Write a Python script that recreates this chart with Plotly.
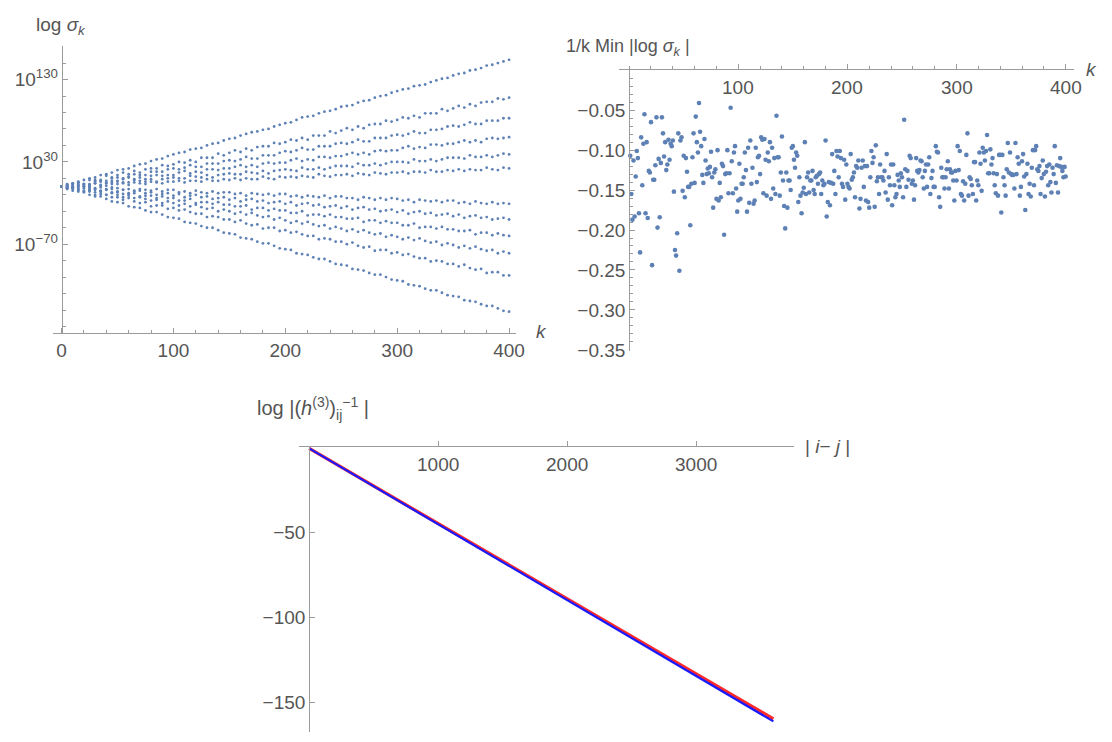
import plotly.graph_objects as go

# Reference canvas size; the figure fills the whole browser viewport and every
# position below is given as a fraction of this canvas.
W, H = 1112, 742

# ---------- Panel 1 data: log10(sigma_k) bands, read every 5 in k ----------
k_band = list(range(0, 401, 5))
band_U1 = [0, 2, 4, 6, 8, 10, 11, 14, 15, 17,
           20, 21, 22, 25, 27, 28, 31, 33, 34, 37,
           39, 41, 42, 45, 46, 47, 50, 52, 53, 56,
           58, 59, 62, 64, 66, 67, 69, 70, 73, 75,
           77, 78, 81, 84, 85, 86, 89, 91, 92, 94,
           97, 98, 99, 102, 104, 105, 108, 110, 111, 114,
           116, 118, 119, 122, 123, 124, 127, 129, 131, 132,
           135, 137, 138, 141, 142, 144, 147, 148, 150, 152,
           154]
band_U2 = [0, 3, 2, 5, 3, 8, 8, 8, 13, 11,
           14, 17, 15, 19, 17, 21, 22, 22, 26, 25,
           27, 30, 29, 32, 30, 35, 35, 35, 40, 38,
           41, 44, 42, 46, 44, 48, 49, 49, 53, 52,
           54, 57, 56, 59, 57, 62, 62, 62, 67, 65,
           68, 71, 69, 73, 71, 75, 76, 76, 80, 79,
           81, 84, 83, 86, 84, 89, 89, 89, 94, 92,
           95, 98, 96, 100, 98, 102, 103, 103, 107, 106,
           108]
band_U3 = [0, 0, 2, 5, 3, 3, 7, 7, 7, 10,
           11, 10, 12, 15, 14, 14, 18, 18, 18, 21,
           22, 21, 23, 26, 24, 24, 28, 28, 28, 31,
           32, 31, 33, 36, 34, 34, 38, 38, 38, 41,
           43, 42, 44, 47, 45, 45, 49, 49, 49, 52,
           53, 52, 54, 57, 55, 55, 59, 59, 59, 62,
           63, 62, 64, 67, 65, 65, 69, 69, 70, 73,
           74, 73, 75, 78, 76, 76, 80, 80, 80, 83,
           83]
band_U4 = [0, 2, 4, 1, 3, 2, 6, 6, 5, 7,
           7, 9, 11, 9, 11, 9, 13, 14, 13, 14,
           14, 17, 19, 16, 18, 17, 21, 21, 20, 22,
           22, 24, 26, 24, 26, 24, 28, 29, 28, 29,
           29, 32, 34, 31, 33, 32, 36, 36, 35, 37,
           37, 39, 41, 39, 41, 39, 43, 44, 43, 44,
           44, 47, 49, 46, 48, 47, 51, 51, 50, 52,
           52, 54, 56, 54, 56, 54, 58, 59, 58, 59,
           60]
band_U5 = [0, 0, 0, 3, 2, 1, 4, 1, 4, 5,
           6, 5, 5, 8, 7, 6, 9, 6, 9, 10,
           11, 10, 10, 13, 12, 11, 14, 11, 14, 15,
           16, 15, 15, 18, 17, 16, 19, 16, 19, 20,
           21, 20, 19, 23, 21, 21, 23, 21, 23, 25,
           25, 25, 24, 28, 26, 26, 28, 26, 28, 30,
           30, 30, 29, 33, 31, 31, 33, 31, 33, 35,
           35, 35, 34, 38, 36, 36, 38, 36, 38, 40,
           39]
band_U6 = [0, 1, 0, 2, 1, 0, 4, 2, 1, 3,
           3, 4, 2, 5, 4, 3, 6, 5, 4, 6,
           6, 7, 5, 7, 7, 6, 9, 7, 7, 9,
           8, 10, 8, 10, 9, 9, 12, 10, 9, 12,
           11, 12, 11, 13, 12, 11, 15, 13, 12, 14,
           14, 15, 13, 16, 15, 14, 17, 16, 15, 17,
           17, 18, 16, 18, 18, 17, 20, 18, 18, 20,
           19, 21, 19, 21, 20, 20, 23, 21, 20, 23,
           22]
band_L1 = [0, -1, -1, -3, 0, -1, -3, -1, -3, -1,
           -2, -4, -3, -5, -3, -4, -5, -3, -6, -4,
           -4, -7, -6, -8, -5, -7, -8, -6, -8, -7,
           -7, -9, -8, -11, -8, -9, -10, -9, -11, -9,
           -9, -12, -11, -13, -11, -12, -13, -11, -14, -12,
           -12, -14, -14, -16, -13, -14, -16, -14, -16, -14,
           -15, -17, -16, -19, -16, -17, -18, -17, -19, -17,
           -17, -20, -19, -21, -18, -20, -21, -19, -21, -20,
           -21]
band_L2 = [0, 1, -3, -1, 0, -3, -2, -5, -4, -3,
           -6, -4, -8, -6, -5, -8, -7, -10, -9, -8,
           -11, -9, -13, -11, -10, -13, -12, -15, -14, -13,
           -16, -14, -18, -16, -15, -18, -17, -20, -19, -18,
           -21, -19, -23, -21, -20, -23, -22, -25, -24, -23,
           -26, -24, -28, -26, -25, -28, -27, -30, -29, -28,
           -31, -29, -33, -31, -30, -33, -32, -35, -34, -33,
           -36, -34, -38, -36, -35, -38, -37, -40, -39, -38,
           -40]
band_L3 = [0, -2, -2, 0, -5, -4, -4, -6, -4, -7,
           -7, -9, -9, -8, -13, -11, -11, -14, -12, -14,
           -14, -17, -17, -15, -20, -19, -19, -21, -19, -22,
           -22, -24, -24, -23, -28, -26, -26, -29, -27, -29,
           -29, -32, -32, -30, -35, -34, -34, -36, -34, -37,
           -37, -39, -39, -38, -43, -41, -41, -44, -42, -44,
           -44, -47, -47, -45, -50, -49, -49, -51, -49, -52,
           -52, -54, -54, -53, -58, -56, -56, -59, -57, -59,
           -60]
band_L4 = [0, -3, -1, -4, -2, -5, -7, -6, -10, -8,
           -10, -13, -11, -14, -12, -15, -17, -16, -20, -18,
           -20, -23, -21, -24, -22, -25, -27, -26, -30, -28,
           -30, -33, -31, -34, -32, -35, -37, -36, -40, -38,
           -41, -44, -42, -45, -43, -46, -48, -47, -51, -49,
           -51, -54, -52, -55, -53, -56, -58, -57, -61, -59,
           -61, -64, -62, -65, -63, -66, -68, -67, -71, -69,
           -71, -74, -72, -75, -73, -76, -78, -77, -81, -79,
           -81]
band_L5 = [0, -2, -1, -4, -6, -6, -10, -9, -10, -13,
           -13, -16, -14, -18, -20, -19, -24, -23, -23, -27,
           -26, -29, -28, -31, -33, -33, -37, -36, -37, -40,
           -40, -43, -41, -45, -47, -46, -51, -50, -50, -54,
           -53, -56, -55, -58, -60, -60, -64, -63, -64, -67,
           -67, -70, -68, -72, -74, -73, -78, -77, -77, -81,
           -80, -83, -82, -85, -87, -87, -91, -90, -91, -94,
           -94, -97, -95, -99, -101, -100, -105, -104, -104, -108,
           -108]
band_L6 = [0, -1, -5, -6, -7, -10, -12, -12, -15, -18,
           -19, -20, -24, -25, -26, -29, -31, -31, -34, -37,
           -38, -39, -43, -44, -45, -48, -50, -50, -53, -56,
           -57, -58, -62, -63, -64, -67, -69, -69, -72, -75,
           -76, -77, -81, -82, -83, -86, -88, -88, -91, -94,
           -95, -96, -100, -101, -102, -105, -107, -107, -110, -113,
           -114, -115, -119, -120, -121, -124, -126, -126, -129, -132,
           -133, -134, -138, -139, -140, -143, -145, -145, -148, -151,
           -152]
bands = [band_U1, band_U2, band_U3, band_U4, band_U5, band_U6,
         band_L1, band_L2, band_L3, band_L4, band_L5, band_L6]
p1_ytickvals = [130, 30, -70]
p1_yticktext = ["10<sup>130</sup>", "10<sup>30</sup>", "10<sup>−70</sup>"]
p1_xtickvals = [0, 100, 200, 300, 400]

# ---------- Panel 2 data: (1/k) Min |log sigma_k| ----------
min_vals = [
    -0.107, -0.155, -0.187, -0.113, -0.183, -0.133, -0.101, -0.110, -0.179, -0.228,
    -0.084, -0.144, -0.092, -0.055, -0.179, -0.090, -0.185, -0.126, -0.128, -0.065,
    -0.244, -0.137, -0.137, -0.119, -0.059, -0.197, -0.111, -0.184, -0.116, -0.059,
    -0.079, -0.108, -0.090, -0.125, -0.118, -0.087, -0.112, -0.092, -0.095, -0.088,
    -0.152, -0.225, -0.232, -0.204, -0.079, -0.251, -0.088, -0.084, -0.151, -0.107,
    -0.159, -0.110, -0.127, -0.146, -0.146, -0.194, -0.142, -0.109, -0.079, -0.141,
    -0.058, -0.090, -0.103, -0.041, -0.077, -0.095, -0.131, -0.141, -0.086, -0.113,
    -0.130, -0.123, -0.129, -0.121, -0.102, -0.134, -0.172, -0.128, -0.124, -0.161,
    -0.100, -0.163, -0.141, -0.159, -0.117, -0.120, -0.206, -0.130, -0.129, -0.100,
    -0.154, -0.129, -0.047, -0.114, -0.154, -0.103, -0.095, -0.148, -0.177, -0.163,
    -0.117, -0.161, -0.142, -0.142, -0.134, -0.103, -0.125, -0.177, -0.097, -0.166,
    -0.088, -0.142, -0.122, -0.167, -0.163, -0.097, -0.140, -0.109, -0.107, -0.130,
    -0.084, -0.087, -0.154, -0.086, -0.112, -0.157, -0.103, -0.114, -0.090, -0.161,
    -0.097, -0.148, -0.110, -0.155, -0.057, -0.109, -0.109, -0.157, -0.128, -0.083,
    -0.138, -0.170, -0.198, -0.128, -0.172, -0.138, -0.138, -0.150, -0.097, -0.095,
    -0.112, -0.122, -0.103, -0.107, -0.165, -0.134, -0.157, -0.179, -0.153, -0.147,
    -0.090, -0.155, -0.134, -0.128, -0.153, -0.138, -0.138, -0.126, -0.150, -0.155,
    -0.134, -0.132, -0.142, -0.130, -0.128, -0.155, -0.138, -0.144, -0.142, -0.088,
    -0.183, -0.165, -0.140, -0.169, -0.141, -0.105, -0.142, -0.126, -0.155, -0.101,
    -0.108, -0.134, -0.101, -0.110, -0.142, -0.146, -0.112, -0.162, -0.118, -0.142,
    -0.146, -0.148, -0.105, -0.137, -0.134, -0.128, -0.159, -0.120, -0.122, -0.113,
    -0.173, -0.161, -0.122, -0.113, -0.146, -0.120, -0.163, -0.120, -0.165, -0.172,
    -0.134, -0.101, -0.116, -0.109, -0.171, -0.094, -0.139, -0.134, -0.155, -0.118,
    -0.134, -0.134, -0.138, -0.126, -0.153, -0.105, -0.162, -0.134, -0.144, -0.118,
    -0.169, -0.118, -0.144, -0.159, -0.155, -0.131, -0.138, -0.146, -0.129, -0.134,
    -0.159, -0.062, -0.124, -0.146, -0.126, -0.137, -0.107, -0.110, -0.142, -0.138,
    -0.162, -0.144, -0.110, -0.126, -0.128, -0.125, -0.113, -0.114, -0.134, -0.148,
    -0.126, -0.118, -0.146, -0.118, -0.109, -0.155, -0.135, -0.126, -0.146, -0.146,
    -0.095, -0.102, -0.103, -0.159, -0.171, -0.122, -0.134, -0.134, -0.148, -0.134,
    -0.124, -0.114, -0.148, -0.124, -0.128, -0.128, -0.138, -0.163, -0.126, -0.138,
    -0.095, -0.125, -0.101, -0.155, -0.157, -0.139, -0.163, -0.142, -0.106, -0.079,
    -0.157, -0.134, -0.136, -0.144, -0.155, -0.115, -0.115, -0.163, -0.138, -0.144,
    -0.103, -0.117, -0.151, -0.097, -0.103, -0.113, -0.101, -0.081, -0.129, -0.129,
    -0.099, -0.118, -0.110, -0.129, -0.144, -0.154, -0.130, -0.157, -0.106, -0.106,
    -0.178, -0.106, -0.134, -0.144, -0.157, -0.124, -0.091, -0.128, -0.103, -0.130,
    -0.131, -0.131, -0.148, -0.091, -0.130, -0.109, -0.117, -0.157, -0.146, -0.114,
    -0.105, -0.133, -0.175, -0.130, -0.117, -0.155, -0.142, -0.158, -0.122, -0.100,
    -0.144, -0.100, -0.095, -0.124, -0.126, -0.120, -0.155, -0.135, -0.113, -0.130,
    -0.158, -0.127, -0.120, -0.144, -0.118, -0.140, -0.153, -0.122, -0.130, -0.095,
    -0.141, -0.119, -0.153, -0.120, -0.110, -0.121, -0.126, -0.134, -0.121, -0.133,
]
k_min = list(range(1, len(min_vals) + 1))
p2_xtickvals = [100, 200, 300, 400]
p2_ytickvals = [-0.05, -0.10, -0.15, -0.20, -0.25, -0.30, -0.35]

# ---------- Panel 3 data: log |(h^(3))^-1_ij| vs |i-j| ----------
ij_dist = [0, 1000, 2000, 3000, 3600]
log_inv_red = [-1.0, -45.1, -89.3, -133.4, -159.5]
log_inv_blue = [-1.0, -45.4, -89.9, -134.3, -161.0]
p3_xtickvals = [1000, 2000, 3000]
p3_ytickvals = [-50, -100, -150]

PT = "#5E81B5"
AXC = "#9b9b9b"
TXC = "#555555"
FONT = "Liberation Sans, Arial, sans-serif"
FS = 19

fig = go.Figure()
for b in bands:
    fig.add_trace(go.Scatter(x=k_band, y=b, mode="markers", xaxis="x", yaxis="y",
                             marker=dict(size=2.8, color=PT), showlegend=False, hoverinfo="skip"))
fig.add_trace(go.Scatter(x=k_min, y=min_vals, mode="markers", xaxis="x2", yaxis="y2",
                         marker=dict(size=4.6, color=PT), showlegend=False))
fig.add_trace(go.Scatter(x=ij_dist, y=log_inv_red, mode="lines", xaxis="x3", yaxis="y3",
                         line=dict(color="#ff2a2a", width=3.2), showlegend=False))
fig.add_trace(go.Scatter(x=ij_dist, y=log_inv_blue, mode="lines", xaxis="x3", yaxis="y3",
                         line=dict(color="#1a1aff", width=2.2), showlegend=False))

def px(x):
    return x / W

def py(y):
    return (H - y) / H

tickfont = dict(family=FONT, size=FS, color=TXC)
common = dict(showgrid=False, zeroline=False, showline=True, linecolor=AXC, linewidth=1,
              tickcolor=AXC, tickfont=tickfont, ticklen=5, tickwidth=1)

fig.update_layout(
    autosize=True, margin=dict(l=0, r=0, t=0, b=0),
    paper_bgcolor="white", plot_bgcolor="rgba(0,0,0,0)", font=dict(family=FONT),
    xaxis=dict(domain=[px(53), px(520)], range=[-8, 406], anchor="y",
               tickmode="array", tickvals=p1_xtickvals, ticks="inside",
               minor=dict(dtick=20, tick0=0, ticks="inside", ticklen=3, tickcolor=AXC), **common),
    yaxis=dict(domain=[py(337.3), py(46.7)], range=[-177.6, 170.7], anchor="free", position=px(62.3),
               tickmode="array", tickvals=p1_ytickvals, ticktext=p1_yticktext, ticks="inside",
               minor=dict(dtick=20, tick0=30, ticks="inside", ticklen=3, tickcolor=AXC), **common),
    xaxis2=dict(domain=[px(624.4), px(1082.6)], range=[-9, 407.5], anchor="y2", side="top",
                tickmode="array", tickvals=p2_xtickvals, ticks="outside", showticklabels=False,
                minor=dict(dtick=20, tick0=0, ticks="outside", ticklen=3, tickcolor=AXC), **common),
    yaxis2=dict(domain=[py(355.6), py(71.2)], range=[-0.3512, 0], anchor="free", position=px(634.3),
                tickmode="array", tickvals=p2_ytickvals, tickformat=".2f", ticks="inside",
                minor=dict(dtick=0.01, tick0=0, ticks="inside", ticklen=3, tickcolor=AXC), **common),
    xaxis3=dict(domain=[px(301.7), px(800)], range=[-77, 3756], anchor="y3", side="top",
                tickmode="array", tickvals=p3_xtickvals, ticks="outside", showticklabels=False, **common),
    yaxis3=dict(domain=[0, py(452.8)], range=[-167.2, 0], anchor="free", position=px(311.7),
                tickmode="array", tickvals=p3_ytickvals, ticks="inside", **common),
)

def ann(text, x, y, xanchor="center", size=FS):
    fig.add_annotation(text=text, x=px(x), y=py(y), xref="paper", yref="paper",
                       xanchor=xanchor, yanchor="middle", showarrow=False,
                       font=dict(family=FONT, size=size, color=TXC))

# x tick labels drawn below the top-placed axes
for v in p2_xtickvals:
    fig.add_annotation(text=str(v), x=v, xref="x2", y=py(89), yref="paper", showarrow=False,
                       xanchor="center", yanchor="middle", font=tickfont)
for v in p3_xtickvals:
    fig.add_annotation(text=str(v), x=v, xref="x3", y=py(471), yref="paper", showarrow=False,
                       xanchor="center", yanchor="middle", font=tickfont)

ann("log <i>σ<sub>k</sub></i>", 61, 26)
ann("<i>k</i>", 546, 336)
ann("1/k Min |log <i>σ<sub>k</sub></i> |", 633, 48, size=18)
ann("<i>k</i>", 1093, 70, xanchor="left")
ann("log |(<i>h</i><sup>(3)</sup>)<sub>ij</sub><sup>−1</sup> |", 316, 414, size=20)
ann("| <i>i</i>− <i>j</i> |", 834, 453)

fig.write_html(
    "out.html",
    default_width="100vw",
    default_height="100vh",
    config={"displayModeBar": False, "responsive": True},
    post_script="document.body.style.margin='0';document.body.style.overflow='hidden';"
                "document.documentElement.style.overflow='hidden';",
)
